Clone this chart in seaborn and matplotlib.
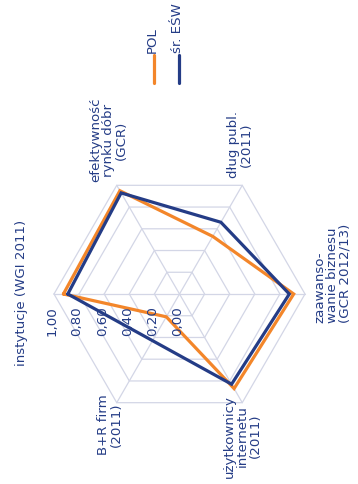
import numpy as np
import pandas as pd
import seaborn as sns
import matplotlib
matplotlib.use("Agg")
import matplotlib.pyplot as plt
from matplotlib.lines import Line2D
from matplotlib.transforms import IdentityTransform

# Indicator axes (clockwise from the left) and scores, scale 0-1
categories = [
    "instytucje (WGI 2011)",
    "efektywność\nrynku dóbr\n(GCR)",
    "dług publ.\n(2011)",
    "zaawanso-\nwanie biznesu\n(GCR 2012/13)",
    "użytkownicy\ninternetu\n(2011)",
    "B+R firm\n(2011)",
]
pol_values = [0.925, 0.95, 0.53, 0.91, 0.87, 0.21]
esw_values = [0.89, 0.93, 0.66, 0.875, 0.83, np.nan]
series_names = ["POL", "śr. EŚW"]
ring_values = [0.0, 0.2, 0.4, 0.6, 0.8, 1.0]
ring_labels = ["0,00", "0,20", "0,40", "0,60", "0,80", "1,00"]

ORANGE = "#f3862a"
NAVY = "#243c86"
GRID = "#d3d6e6"
FS = 9.6

sns.set_theme(style="white")
plt.rcParams["font.family"] = ["Liberation Sans Narrow", "DejaVu Sans"]

W, H = 358, 484
fig = plt.figure(figsize=(W / 100, H / 100), dpi=100)
cx, cy, rad = 179.5, H - 294, 125.5
ax = fig.add_axes([(cx - rad) / W, (cy - rad) / H, 2 * rad / W, 2 * rad / H],
                  projection="polar")
ax.set_theta_zero_location("W")
ax.set_theta_direction(-1)
ax.set_ylim(0, 1.0)
ax.grid(False)
ax.spines["polar"].set_visible(False)
ax.set_xticks([])
ax.set_yticks([])
ax.patch.set_alpha(0)

n = len(categories)
angles = np.arange(n) * 2 * np.pi / n

# hexagonal rings and spokes
for r in ring_values[1:]:
    ax.plot(np.append(angles, angles[0]), [r] * (n + 1), color=GRID, lw=0.9,
            zorder=1, clip_on=False)
for a in angles:
    ax.plot([a, a], [0, 1.0], color=GRID, lw=0.9, zorder=1, clip_on=False)

# long-form table; missing values are skipped and the outline closed
rows = []
for name, vals in zip(series_names, [pol_values, esw_values]):
    pts = [(a, v) for a, v in zip(angles, vals) if not np.isnan(v)]
    pts.append(pts[0])
    for i, (a, v) in enumerate(pts):
        rows.append({"series": name, "order": i, "theta": a, "value": v})
df = pd.DataFrame(rows)

palette = {"POL": ORANGE, "śr. EŚW": NAVY}
for name in ["POL", "śr. EŚW"]:
    sns.lineplot(data=df[df["series"] == name], x="theta", y="value",
                 sort=False, estimator=None, color=palette[name], lw=2.3,
                 ax=ax, legend=False, zorder=3 if name == "POL" else 4)
for line in ax.lines:
    line.set_solid_joinstyle("miter")
    line.set_clip_on(False)
ax.set_xlabel("")
ax.set_ylabel("")

txt = dict(color=NAVY, fontsize=FS, rotation=90, textcoords="offset pixels",
           annotation_clip=False)

# category labels
label_pos = [
    ((-26, 1.5), "right", "center", "center"),
    ((-8, 3), "center", "bottom", "center"),
    ((-2, 7), "center", "bottom", "center"),
    ((8, -29), "left", "bottom", "left"),
    ((0, 8), "center", "top", "center"),
    ((-7, 8), "center", "top", "center"),
]
for a, lab, (off, ha, va, ma) in zip(angles, categories, label_pos):
    ax.annotate(lab, xy=(a, 1.0), xytext=off, ha=ha, va=va,
                multialignment=ma, linespacing=1.0, **txt)

# radial scale along the first axis
for r, lab in zip(ring_values, ring_labels):
    ax.annotate(lab, xy=(angles[0], r), xytext=(-2, -12), ha="center",
                va="top", **txt)

# legend
ident = IdentityTransform()
for name, x in zip(series_names, [154, 179]):
    fig.add_artist(Line2D([x, x], [H - 83, H - 55], color=palette[name],
                          lw=2.3, transform=ident))
    fig.text(x - 1.5, H - 53, name, transform=ident, ha="center", va="bottom",
             rotation=90, color=NAVY, fontsize=FS)

fig.savefig("out.png", dpi=100)
